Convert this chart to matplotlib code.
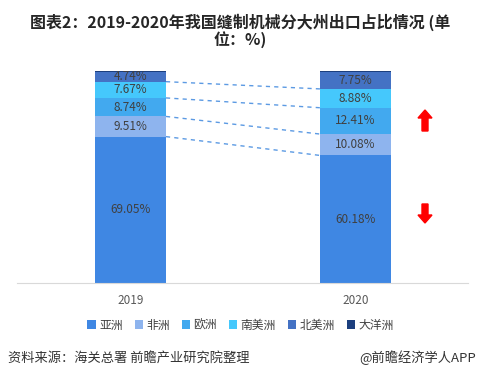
import matplotlib.pyplot as plt
from matplotlib.patches import Patch, FancyArrow

plt.rcParams["font.family"] = ["Noto Sans CJK SC", "DejaVu Sans"]

years = ["2019", "2020"]
regions = ["亚洲", "非洲", "欧洲", "南美洲", "北美洲", "大洋洲"]
shares = {
    "亚洲": [69.05, 60.18],
    "非洲": [9.51, 10.08],
    "欧洲": [8.74, 12.41],
    "南美洲": [7.67, 8.88],
    "北美洲": [4.74, 7.75],
    "大洋洲": [0.29, 0.70],
}
colors = ["#3F87E3", "#8EB4EE", "#42A9EF", "#45C8FC", "#4472C4", "#1C3F7E"]

fig = plt.figure(figsize=(4.81, 3.83), dpi=100)
ax = fig.add_axes([17 / 481, 100 / 383, 451 / 481, 212 / 383])

x = [0, 1]
width = 0.316
bottoms = [0.0, 0.0]
tops = {}
for name, color in zip(regions, colors):
    vals = shares[name]
    ax.bar(x, vals, width, bottom=bottoms, color=color, label=name, clip_on=False)
    for i, v in enumerate(vals):
        if name != "大洋洲":
            ax.text(x[i], bottoms[i] + v / 2, f"{v:.2f}%", ha="center", va="center",
                    fontsize=8.5, color="#404040")
    bottoms = [b + v for b, v in zip(bottoms, vals)]
    tops[name] = list(bottoms)

# dashed connectors between segment boundaries
for name in ["亚洲", "非洲", "欧洲", "南美洲"]:
    ax.plot([width / 2, 1 - width / 2], tops[name], color="#4A8FE0",
            linestyle=(0, (3, 3)), linewidth=1.0, alpha=0.9)

ax.set_xlim(-0.504, 1.5)
ax.set_ylim(0, 100)
ax.set_xticks(x)
ax.set_xticklabels(years, fontsize=8.5, color="#595959")
ax.tick_params(axis="x", length=0, pad=8)
ax.set_yticks([])
for side in ["left", "right", "top"]:
    ax.spines[side].set_visible(False)
ax.spines["bottom"].set_color("#D9D9D9")

# red arrows
fig.patches.append(FancyArrow(425 / 481, 1 - 131 / 383, 0, 21 / 383, width=6 / 481,
                              head_width=14 / 481, head_length=8 / 383,
                              length_includes_head=True, color="#FF0000",
                              transform=fig.transFigure))
fig.patches.append(FancyArrow(425 / 481, 1 - 204 / 383, 0, -19 / 383, width=6 / 481,
                              head_width=14 / 481, head_length=8 / 383,
                              length_includes_head=True, color="#FF0000",
                              transform=fig.transFigure))

handles = [Patch(facecolor=c, label=n) for n, c in zip(regions, colors)]
fig.legend(handles=handles, loc="center", bbox_to_anchor=(0.5, 1 - 325 / 383), ncol=6,
           frameon=False, fontsize=8.5, handlelength=0.7, handleheight=0.7,
           handletextpad=0.3, columnspacing=1.0, labelcolor="#404040")

fig.text(0.5, 1 - 22 / 383, "图表2：2019-2020年我国缝制机械分大州出口占比情况 (单",
         ha="center", va="center", fontsize=11.5, fontweight="bold", color="#262626")
fig.text(0.5, 1 - 40 / 383, "位：%)", ha="center", va="center", fontsize=11.5,
         fontweight="bold", color="#262626")
fig.text(8 / 481, 1 - 358 / 383, "资料来源：海关总署 前瞻产业研究院整理", ha="left",
         va="center", fontsize=9.5, color="#333333")
fig.text(476 / 481, 1 - 358 / 383, "@前瞻经济学人APP", ha="right", va="center",
         fontsize=9.5, color="#333333")

fig.savefig("out.png", dpi=100)
